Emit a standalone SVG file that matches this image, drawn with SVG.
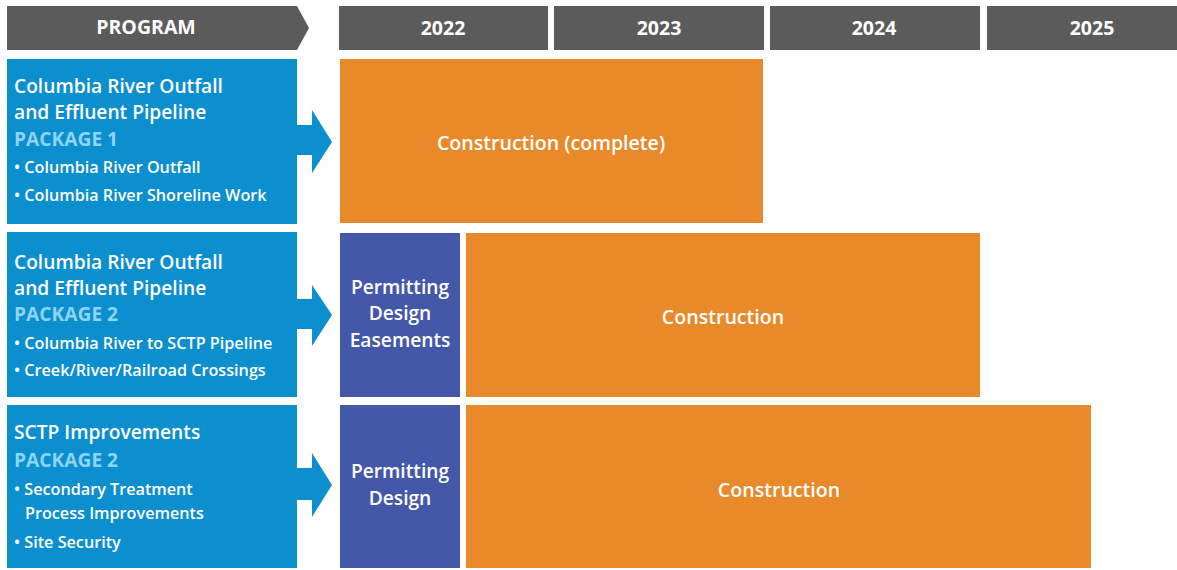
<svg xmlns="http://www.w3.org/2000/svg" width="1177" height="570" viewBox="0 0 1177 570">
<style>
.hdr{fill:#5b5b5b}
.prog{fill:#0b8fcf}
.orange{fill:#e98a2a}
.purple{fill:#4358a9}
text{font-family:"Open Sans","Noto Sans",sans-serif;fill:#fff}
.ht{font-size:19.5px;font-weight:700;text-anchor:middle}
.t1{font-size:19.2px;font-weight:600}
.pk{font-size:19.2px;font-weight:700;fill:#8ed4f6}
.b{font-size:16.2px;font-weight:600}
.c{font-size:19.6px;font-weight:600;text-anchor:middle}
.cp{font-size:19.2px;font-weight:600;text-anchor:middle}
</style>
<rect width="1177" height="570" fill="#fff"/>
<g id="header-program">
<polygon class="hdr" points="7,6 297,6 309,28 297,50 7,50"/>
<text class="ht" x="146" y="34">PROGRAM</text>
</g>
<g id="header-2022"><rect class="hdr" x="339" y="6" width="209" height="44"/><text class="ht" x="443" y="35">2022</text></g>
<g id="header-2023"><rect class="hdr" x="554" y="6" width="210" height="44"/><text class="ht" x="659" y="35">2023</text></g>
<g id="header-2024"><rect class="hdr" x="770" y="6" width="210" height="44"/><text class="ht" x="874" y="35">2024</text></g>
<g id="header-2025"><rect class="hdr" x="987" y="6" width="190" height="44"/><text class="ht" x="1092" y="35">2025</text></g>

<g id="program-1">
<rect class="prog" x="7" y="59" width="290" height="165"/>
<text class="t1" x="14" y="93">Columbia River Outfall</text>
<text class="t1" x="14" y="119">and Effluent Pipeline</text>
<text class="pk" x="14" y="146">PACKAGE 1</text>
<text class="b" x="14" y="173">• Columbia River Outfall</text>
<text class="b" x="14" y="201">• Columbia River Shoreline Work</text>
</g>
<g id="program-2">
<rect class="prog" x="7" y="232" width="290" height="165"/>
<text class="t1" x="14" y="269">Columbia River Outfall</text>
<text class="t1" x="14" y="295">and Effluent Pipeline</text>
<text class="pk" x="14" y="321">PACKAGE 2</text>
<text class="b" x="14" y="349">• Columbia River to SCTP Pipeline</text>
<text class="b" x="14" y="376">• Creek/River/Railroad Crossings</text>
</g>
<g id="program-3">
<rect class="prog" x="7" y="405" width="290" height="163"/>
<text class="t1" x="14" y="439">SCTP Improvements</text>
<text class="pk" x="14" y="467">PACKAGE 2</text>
<text class="b" x="14" y="495">• Secondary Treatment</text>
<text class="b" x="25" y="519">Process Improvements</text>
<text class="b" x="14" y="548">• Site Security</text>
</g>

<g id="connectors">
<polygon class="prog" points="296,125 312,125 312,110 332,142 312,173 312,155 296,155"/>
<polygon class="prog" points="296,299 312,299 312,285 332,315 312,346 312,329 296,329"/>
<polygon class="prog" points="296,468 312,468 312,453 332,485 312,517 312,500 296,500"/>
</g>

<g id="row1-construction">
<rect class="orange" x="340" y="59" width="423" height="164"/>
<text class="c" x="551" y="150">Construction (complete)</text>
</g>
<g id="row2-permitting">
<rect class="purple" x="340" y="233" width="120" height="164"/>
<text class="cp" x="400" y="294">Permitting</text>
<text class="cp" x="400" y="320">Design</text>
<text class="cp" x="400" y="347">Easements</text>
</g>
<g id="row2-construction">
<rect class="orange" x="466" y="233" width="514" height="164"/>
<text class="c" x="723" y="324">Construction</text>
</g>
<g id="row3-permitting">
<rect class="purple" x="340" y="405" width="120" height="163"/>
<text class="cp" x="400" y="478">Permitting</text>
<text class="cp" x="400" y="505">Design</text>
</g>
<g id="row3-construction">
<rect class="orange" x="466" y="405" width="625" height="163"/>
<text class="c" x="779" y="497">Construction</text>
</g>
</svg>
